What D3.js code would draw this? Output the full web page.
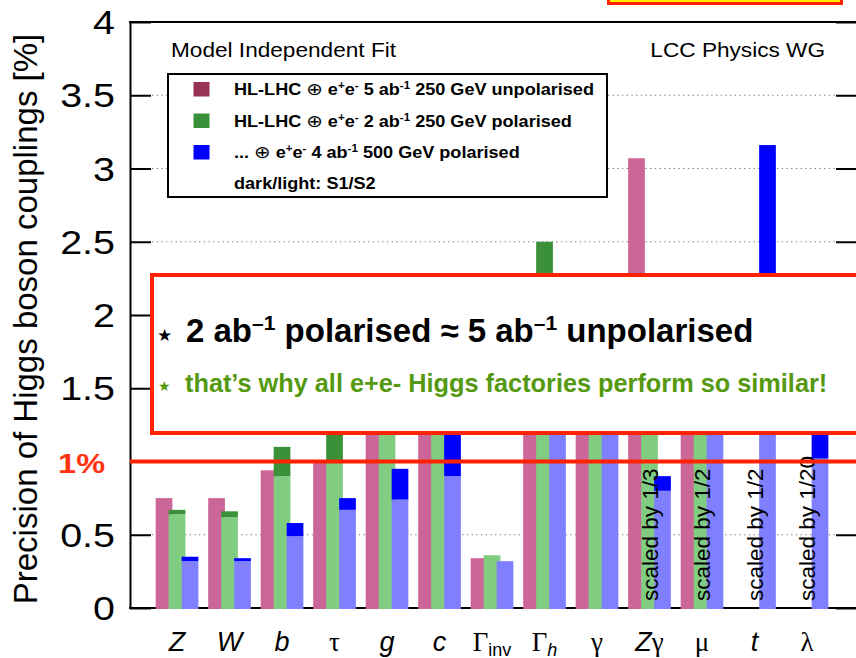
<!DOCTYPE html>
<html>
<head>
<meta charset="utf-8">
<script src="https://cdn.jsdelivr.net/npm/d3@7"></script>
<style>
  html, body { margin: 0; padding: 0; background: #fff; }
  svg { display: block; }
</style>
</head>
<body>
<svg id="chart" width="856" height="658"></svg>
<script>
// Higgs coupling precisions [%], model independent fit.
const categories = ["Z", "W", "b", "τ", "g", "c", "Γinv", "Γh", "γ", "Zγ", "μ", "t", "λ"];

// tick label pieces: [text, style] with style "it" (italic sans), "gr" (greek), "sub", "subit"
const tickLabels = [
  [["Z", "it"]], [["W", "it"]], [["b", "it"]], [["τ", "gr"]], [["g", "it"]], [["c", "it"]],
  [["Γ", "gr"], ["inv", "sub"]], [["Γ", "gr"], ["h", "subit"]], [["γ", "gr"]],
  [["Z", "it"], ["γ", "gr"]], [["μ", "gr"]], [["t", "it"]], [["λ", "gr"]]
];

// HL-LHC + 5 ab-1 250 GeV unpolarised
const unpol250 = [0.75, 0.75, 0.94, 1.00, 1.45, 1.75, 0.34, 2.05, 1.85, 3.07, 1.95, null, null];
// HL-LHC + 2 ab-1 250 GeV polarised (S1 dark, S2 light)
const pol250S1 = [0.67, 0.66, 1.10, 1.25, 1.60, 1.90, 0.36, 2.50, 1.90, 2.00, 2.10, null, null];
const pol250S2 = [0.64, 0.62, 0.90, 0.99, 1.40, 1.65, 0.36, 2.00, 1.70, 1.80, 1.80, null, null];
// ... + 4 ab-1 500 GeV polarised (S1 dark, S2 light)
const pol500S1 = [0.35, 0.34, 0.58, 0.75, 0.95, 1.25, 0.32, 1.60, 1.45, 0.90, 1.50, 3.16, 1.35];
const pol500S2 = [0.32, 0.32, 0.49, 0.67, 0.74, 0.90, 0.32, 1.50, 1.30, 0.80, 1.30, 1.80, 1.02];

const scaleNotes = ["", "", "", "", "", "", "", "", "", "scaled by 1/3", "scaled by 1/2", "scaled by 1/2", "scaled by 1/20"];
const yTicks = [0, 0.5, 1, 1.5, 2, 2.5, 3, 3.5, 4];
const yTickLabels = ["0", "0.5", "", "1.5", "2", "2.5", "3", "3.5", "4"];

const seriesKeys = ["unpol", "pol", "p500"];
const legendLabels = [
  [["HL-LHC ", "b"], ["⊕", "n"], [" e", "b"], ["+", "sup"], ["e", "b"], ["-", "sup"], [" 5 ab", "b"], ["-1", "sup"], [" 250 GeV unpolarised", "b"]],
  [["HL-LHC ", "b"], ["⊕", "n"], [" e", "b"], ["+", "sup"], ["e", "b"], ["-", "sup"], [" 2 ab", "b"], ["-1", "sup"], [" 250 GeV polarised", "b"]],
  [["... ", "b"], ["⊕", "n"], [" e", "b"], ["+", "sup"], ["e", "b"], ["-", "sup"], [" 4 ab", "b"], ["-1", "sup"], [" 500 GeV polarised", "b"]]
];

const colors = {
  unpol: { light: "#cc6699", dark: "#993355" },
  pol:   { light: "#80cc80", dark: "#3a913a" },
  p500:  { light: "#8080ff", dark: "#0000ff" }
};

const series = [
  { key: "unpol", s1: unpol250, s2: unpol250 },
  { key: "pol", s1: pol250S1, s2: pol250S2 },
  { key: "p500", s1: pol500S1, s2: pol500S2 }
];

const W = 856, H = 658;
const SX = 1.16; // horizontal stretch of the plot lettering
const FONT = "'Liberation Sans', Arial, Helvetica, sans-serif";
const SERIF = "'Liberation Serif', 'DejaVu Serif', serif";

const svg = d3.select("#chart");
svg.append("rect").attr("width", W).attr("height", H).attr("fill", "#fff");

const axL = 130, axR = 858, axT = 22, axB = 608;
const y = d3.scaleLinear().domain([0, 4]).range([axB, axT]);
const x = d3.scaleBand().domain(categories)
  .range([150.45, 833.6]).paddingInner(0.187).paddingOuter(0.1).align(0.5);
const xs = d3.scalePoint().domain(seriesKeys).range([0, x.bandwidth() - 16.7]);
const barW = 16.7;

// dotted grid
svg.append("g").selectAll("line")
  .data(yTicks.filter(v => v > 0 && v < 4))
  .join("line")
  .attr("x1", 152).attr("x2", 836)
  .attr("y1", d => y(d)).attr("y2", d => y(d))
  .attr("stroke", "#777").attr("stroke-width", 1.2)
  .attr("stroke-dasharray", "1.3,3.4");

// frame lines and ticks
const axisG = svg.append("g");
const leftAxis = d3.axisLeft(y).tickValues(yTicks).tickSizeInner(-21).tickSizeOuter(0).tickFormat("");
axisG.append("g").attr("transform", `translate(${axL},0)`).call(leftAxis)
  .call(g => g.selectAll("line, path").attr("stroke", "#000").attr("stroke-width", 2));
const rightAxis = d3.axisRight(y).tickValues(yTicks).tickSizeInner(-22).tickSizeOuter(0).tickFormat("");
axisG.append("g").attr("transform", `translate(${axR},0)`).call(rightAxis)
  .call(g => g.selectAll("line, path").attr("stroke", "#000").attr("stroke-width", 2));
axisG.append("line").attr("x1", axL - 1).attr("x2", axR).attr("y1", axT).attr("y2", axT)
  .attr("stroke", "#000").attr("stroke-width", 2.2);
axisG.append("line").attr("x1", axL - 1).attr("x2", axR).attr("y1", axB).attr("y2", axB)
  .attr("stroke", "#000").attr("stroke-width", 2.2);

// bars: light part up to S2, dark part from S2 up to S1
const barG = svg.append("g");
series.forEach(s => {
  categories.forEach((c, i) => {
    const v1 = s.s1[i], v2 = s.s2[i];
    if (v1 == null) return;
    const bx = x(c) + xs(s.key);
    barG.append("rect")
      .attr("x", bx).attr("width", barW)
      .attr("y", y(v2)).attr("height", y(0) + 1 - y(v2))
      .attr("fill", colors[s.key].light);
    if (v1 > v2) {
      barG.append("rect")
        .attr("x", bx).attr("width", barW)
        .attr("y", y(v1)).attr("height", y(v2) - y(v1))
        .attr("fill", colors[s.key].dark);
    }
  });
});

// helper for horizontally stretched text
function stext(parent, tx, ty, anchor, size, weight, fill) {
  return parent.append("text")
    .attr("transform", `translate(${tx},${ty}) scale(${SX},1)`)
    .attr("text-anchor", anchor)
    .attr("font-family", FONT)
    .attr("font-size", size)
    .attr("font-weight", weight || "normal")
    .attr("fill", fill || "#000");
}

// y tick labels
yTicks.forEach((v, i) => {
  if (!yTickLabels[i]) return;
  stext(svg, 115, y(v) + 12, "end", 34).text(yTickLabels[i]);
});
stext(svg, 105, 473, "end", 28, "bold", "#ff3311").text("1%");

// y axis title
svg.append("text")
  .attr("transform", `translate(37,${(axT + axB) / 2 + 4}) rotate(-90)`)
  .attr("text-anchor", "middle")
  .attr("font-family", FONT).attr("font-size", 33)
  .text("Precision of Higgs boson couplings [%]");

// x tick labels
const xl = svg.append("g");
categories.forEach((c, i) => {
  const t = xl.append("text")
    .attr("x", x(c) + x.bandwidth() / 2).attr("y", 651)
    .attr("text-anchor", "middle").attr("font-size", 27);
  tickLabels[i].forEach(([str, st]) => {
    const ts = t.append("tspan").text(str);
    if (st === "it") ts.attr("font-family", FONT).attr("font-style", "italic");
    if (st === "gr") ts.attr("font-family", SERIF);
    if (st === "sub" || st === "subit") {
      ts.attr("font-family", FONT).attr("font-size", 18).attr("dy", 5)
        .attr("font-style", st === "subit" ? "italic" : "normal");
    }
  });
});

// scale notes
categories.forEach((c, i) => {
  if (!scaleNotes[i]) return;
  svg.append("text")
    .attr("transform", `translate(${x(c) + x.bandwidth() / 2 + 8},601) rotate(-90)`)
    .attr("font-family", FONT).attr("font-size", 22.5)
    .text(scaleNotes[i]);
});

// 1% line
svg.append("line").attr("x1", axL).attr("x2", axR).attr("y1", y(1)).attr("y2", y(1))
  .attr("stroke", "#ff2200").attr("stroke-width", 4);

// headers
stext(svg, 171, 57, "start", 19.5).text("Model Independent Fit");
stext(svg, 825, 57, "end", 19.5).text("LCC Physics WG");

// legend
const lg = svg.append("g");
lg.append("rect").attr("x", 168).attr("y", 74).attr("width", 439).attr("height", 123)
  .attr("fill", "#fff").attr("stroke", "#000").attr("stroke-width", 2);
const legBase = [95, 126.5, 158];
seriesKeys.forEach((k, i) => {
  lg.append("rect").attr("x", 193.5).attr("y", legBase[i] - 13).attr("width", 16).attr("height", 14.5)
    .attr("fill", colors[k].dark);
  const t = stext(lg, 234, legBase[i], "start", 15.6, "bold");
  legendLabels[i].forEach(([str, st], j) => {
    const ts = t.append("tspan").text(str);
    const prev = j > 0 ? legendLabels[i][j - 1][1] : null;
    if (st === "n") ts.attr("font-weight", "normal").attr("font-family", "'DejaVu Sans', sans-serif").attr("font-size", 17);
    if (st === "sup") ts.attr("font-size", 10).attr("dy", -6);
    else if (prev === "sup") ts.attr("dy", 6);
  });
});
stext(lg, 234, 188.5, "start", 15.6, "bold").text("dark/light: S1/S2");

// annotation box
const ann = svg.append("g");
ann.append("rect").attr("x", 152).attr("y", 275).attr("width", 720).attr("height", 158)
  .attr("fill", "#fff").attr("stroke", "#ff2200").attr("stroke-width", 4);
ann.append("text").attr("x", 157).attr("y", 341).attr("font-family", "'DejaVu Sans', sans-serif")
  .attr("font-size", 17).text("★");
const l1 = ann.append("text").attr("x", 186).attr("y", 342)
  .attr("font-family", FONT).attr("font-size", 33).attr("font-weight", "bold");
l1.append("tspan").text("2 ab");
l1.append("tspan").attr("font-size", 21).attr("dy", -12).text("–1");
l1.append("tspan").attr("dy", 12).text(" polarised ≈ 5 ab");
l1.append("tspan").attr("font-size", 21).attr("dy", -12).text("–1");
l1.append("tspan").attr("dy", 12).text(" unpolarised");
ann.append("text").attr("x", 158).attr("y", 391).attr("font-family", "'DejaVu Sans', sans-serif")
  .attr("font-size", 14).attr("fill", "#559911").text("★");
ann.append("text").attr("x", 185).attr("y", 392)
  .attr("font-family", FONT).attr("font-size", 25.3).attr("font-weight", "bold").attr("fill", "#559911")
  .text("that’s why all e+e- Higgs factories perform so similar!");

// highlighted box at the top edge
svg.append("rect").attr("x", 608.5).attr("y", -10).attr("width", 233).attr("height", 13.5)
  .attr("fill", "#ffee00").attr("stroke", "#ff2200").attr("stroke-width", 3);
</script>
</body>
</html>
